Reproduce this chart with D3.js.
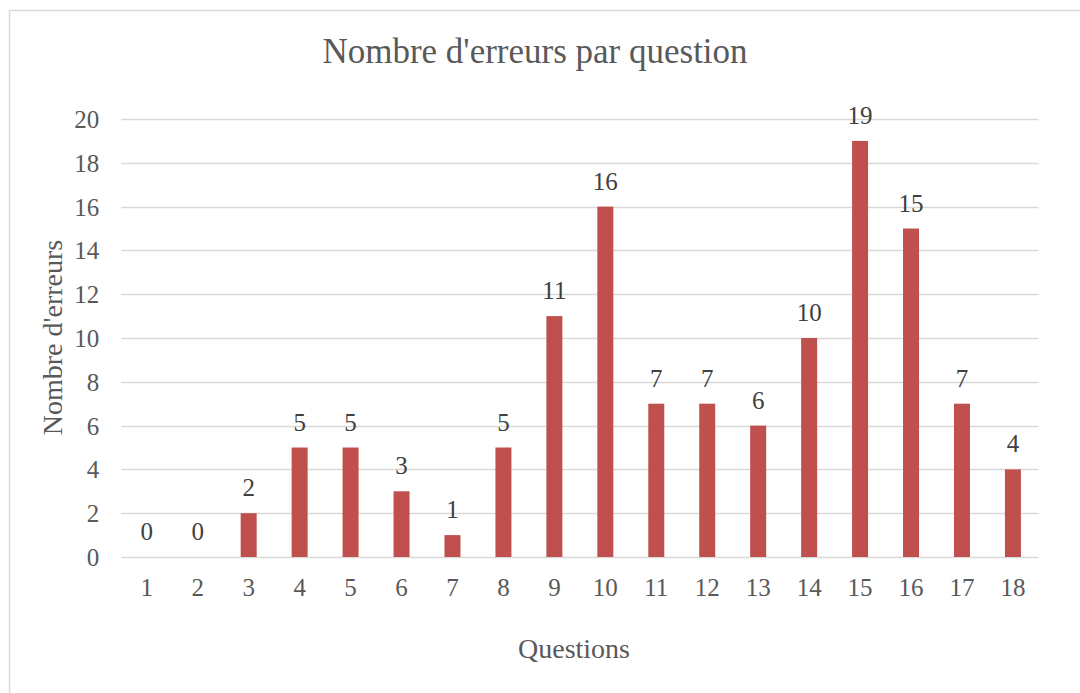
<!DOCTYPE html>
<html>
<head>
<meta charset="utf-8">
<script src="https://cdn.jsdelivr.net/npm/d3@7"></script>
<style>
  html, body { margin: 0; padding: 0; background: #fff; }
  svg { display: block; }
  text { font-family: "Liberation Serif", "Times New Roman", serif; }
</style>
</head>
<body>
<svg id="chart" width="1080" height="693"></svg>
<script>
const title = "Nombre d'erreurs par question";
const xTitle = "Questions";
const yTitle = "Nombre d'erreurs";
const categories = ["1","2","3","4","5","6","7","8","9","10","11","12","13","14","15","16","17","18"];
const errors = [0,0,2,5,5,3,1,5,11,16,7,7,6,10,19,15,7,4];
const yTicks = [0,2,4,6,8,10,12,14,16,18,20];

(function () {
const svg = d3.select("#chart");

// outer chart border
svg.append("rect")
  .attr("x", 9.5).attr("y", 10.5)
  .attr("width", 1200).attr("height", 800)
  .attr("fill", "#fff").attr("stroke", "#D9D9D9").attr("stroke-width", 1.5);

const pLeft = 121.3, pRight = 1038.4, pTop = 119, pBottom = 557;

const x = d3.scaleBand().domain(categories).range([pLeft, pRight])
  .paddingInner(0.686).paddingOuter(0.343);
const y = d3.scaleLinear().domain([0, 20]).range([pBottom, pTop]);

// gridlines
svg.append("g").selectAll("line").data(yTicks).join("line")
  .attr("x1", pLeft).attr("x2", pRight)
  .attr("y1", d => Math.round(y(d)) + 0.5).attr("y2", d => Math.round(y(d)) + 0.5)
  .attr("stroke", "#D9D9D9").attr("stroke-width", 1.3);

// y axis labels
const yAxis = d3.axisLeft(y).tickValues(yTicks).tickSize(0).tickPadding(22);
const gy = svg.append("g").attr("transform", `translate(${pLeft},0)`).call(yAxis);
gy.select(".domain").remove();
gy.selectAll("text")
  .attr("fill", "#595959").attr("font-size", 25)
  .attr("font-family", "Liberation Serif, serif")
  .attr("dy", "0.34em");

// x axis labels
const xAxis = d3.axisBottom(x).tickSize(0).tickPadding(21);
const gx = svg.append("g").attr("transform", `translate(0,${pBottom})`).call(xAxis);
gx.select(".domain").remove();
gx.selectAll("text")
  .attr("fill", "#595959").attr("font-size", 25)
  .attr("font-family", "Liberation Serif, serif")
  .attr("dy", "0.71em");

// bars
svg.append("g").selectAll("rect").data(errors).join("rect")
  .attr("x", (d, i) => x(categories[i]))
  .attr("width", x.bandwidth())
  .attr("y", d => y(d))
  .attr("height", d => y(0) - y(d))
  .attr("fill", "#C0504D");

// data labels
svg.append("g").selectAll("text").data(errors).join("text")
  .attr("x", (d, i) => x(categories[i]) + x.bandwidth() / 2)
  .attr("y", d => y(d) - 17)
  .attr("text-anchor", "middle")
  .attr("fill", "#404040").attr("font-size", 25)
  .text(d => d);

// titles
svg.append("text")
  .attr("x", 535).attr("y", 63)
  .attr("text-anchor", "middle")
  .attr("fill", "#595959").attr("font-size", 35)
  .text(title);

svg.append("text")
  .attr("x", 574).attr("y", 658)
  .attr("text-anchor", "middle")
  .attr("fill", "#595959").attr("font-size", 28)
  .text(xTitle);

svg.append("text")
  .attr("transform", "translate(61.5,337.5) rotate(-90)")
  .attr("text-anchor", "middle")
  .attr("fill", "#595959").attr("font-size", 28)
  .text(yTitle);
})();
</script>
</body>
</html>
